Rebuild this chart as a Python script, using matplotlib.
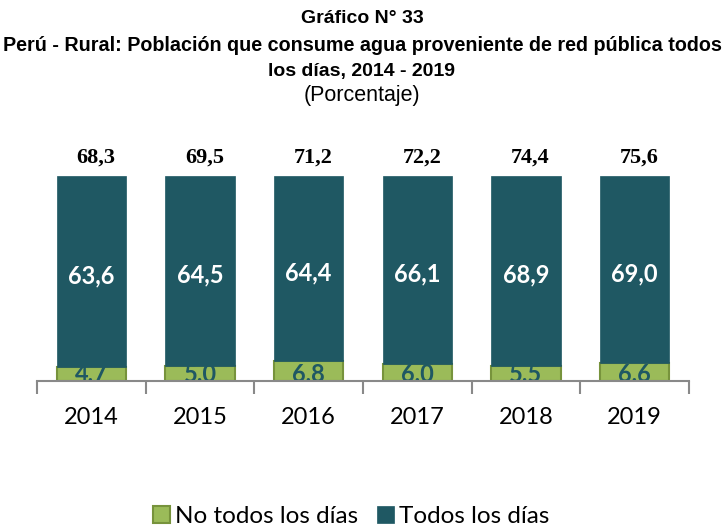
"""
Perú - Rural: población que consume agua de red pública, 2014 - 2019.
Gráfico de barras apiladas al 100 % con etiquetas de valores reales.

Output:
    out.png
"""

import numpy as np
import matplotlib.pyplot as plt


# ---------------------------------------------------------------------
# Data
# ---------------------------------------------------------------------

YEARS = ["2014", "2015", "2016", "2017", "2018", "2019"]
NO_TODOS = [4.7, 5.0, 6.8, 6.0, 5.5, 6.6]
TODOS = [63.6, 64.5, 64.4, 66.1, 68.9, 69.0]
TOTAL = [68.3, 69.5, 71.2, 72.2, 74.4, 75.6]

TEAL = "#1F5863"
GREEN = "#9BBB59"
GREEN_EDGE = "#77933C"
AXIS_GRAY = "#898989"

TITLE_FONT = ["Liberation Sans Narrow", "Liberation Sans", "DejaVu Sans"]
BODY_FONT = ["Lato", "DejaVu Sans"]
SERIF_FONT = ["Liberation Serif", "DejaVu Serif"]


def fmt(value):
    return f"{value:.1f}".replace(".", ",")


def main():
    no_todos = np.array(NO_TODOS)
    todos = np.array(TODOS)
    share_low = no_todos / (no_todos + todos)
    share_high = 1 - share_low

    fig = plt.figure(figsize=(7.24, 5.32), dpi=100)
    ax = fig.add_axes([0.0511, 0.2838, 0.9006, 0.3854])

    x = np.arange(len(YEARS)) + 0.5
    width = 0.64

    ax.bar(x, share_low, width, color=GREEN, edgecolor=GREEN_EDGE,
           linewidth=1.5, label="No todos los días", zorder=2)
    ax.bar(x, share_high, width, bottom=share_low, color=TEAL,
           edgecolor=TEAL, linewidth=0.5, label="Todos los días", zorder=2)

    for xi, low, high, v_low, v_high, total in zip(
            x, share_low, share_high, no_todos, todos, TOTAL):
        ax.text(xi, low + high / 2 - 0.02, fmt(v_high), ha="center",
                va="center", color="white", fontsize=17, fontweight="bold",
                family=BODY_FONT, zorder=3)
        # bottom label overflows its thin segment and is cut by the axis
        ax.text(xi, -0.004, fmt(v_low), ha="center", va="baseline",
                color=TEAL, fontsize=17, fontweight="bold", family=BODY_FONT,
                zorder=3, clip_on=True)
        ax.text(xi + 0.04, 1.09, fmt(total), ha="center", va="center",
                color="black", fontsize=16, fontweight="bold",
                family=SERIF_FONT, clip_on=False)

    ax.set_xlim(0, len(YEARS))
    ax.set_ylim(0, 1)

    # Excel-style category axis: ticks between categories
    ax.set_xticks(np.arange(len(YEARS) + 1))
    ax.set_xticklabels([])
    ax.set_xticks(x, minor=True)
    ax.set_xticklabels(YEARS, minor=True, fontsize=17, family=BODY_FONT)
    ax.tick_params(axis="x", which="major", length=9, width=1.5,
                   color=AXIS_GRAY, direction="out")
    ax.tick_params(axis="x", which="minor", length=0, pad=19)
    ax.set_yticks([])

    for side in ("left", "right", "top"):
        ax.spines[side].set_visible(False)
    ax.spines["bottom"].set_color(AXIS_GRAY)
    ax.spines["bottom"].set_linewidth(1.5)
    ax.spines["bottom"].set_zorder(4)

    fig.text(0.5, 0.966, "Gráfico N° 33", ha="center", va="center",
             fontsize=14, fontweight="bold", family=TITLE_FONT)
    fig.text(0.5, 0.915,
             "Perú - Rural: Población que consume agua proveniente de red pública todos",
             ha="center", va="center", fontsize=14.2, fontweight="bold",
             family=TITLE_FONT)
    fig.text(0.5, 0.865, "los días, 2014 - 2019", ha="center", va="center",
             fontsize=14, fontweight="bold", family=TITLE_FONT)
    fig.text(0.5, 0.821, "(Porcentaje)", ha="center", va="center",
             fontsize=15.5, family=TITLE_FONT)

    fig.legend(loc="center", bbox_to_anchor=(0.485, 0.03), ncol=2,
               frameon=False, prop={"family": BODY_FONT, "size": 17.5},
               handlelength=0.7, handleheight=0.7, handletextpad=0.2,
               columnspacing=0.8)

    fig.savefig("out.png", dpi=100)
    plt.close(fig)


if __name__ == "__main__":
    main()
